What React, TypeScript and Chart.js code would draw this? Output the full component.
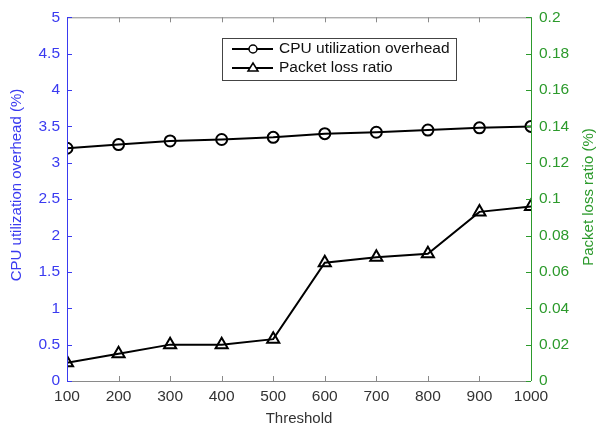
import React, { useEffect, useRef } from "react";
import { Chart, registerables } from "chart.js";
Chart.register(...registerables);

const thresholds = [100, 200, 300, 400, 500, 600, 700, 800, 900, 1000];
const cpuOverhead = [3.2, 3.25, 3.3, 3.32, 3.35, 3.4, 3.42, 3.45, 3.48, 3.5];
const packetLoss = [0.01, 0.015, 0.02, 0.02, 0.023, 0.065, 0.068, 0.07, 0.093, 0.096];
const leftTicks = [0, 0.5, 1, 1.5, 2, 2.5, 3, 3.5, 4, 4.5, 5];
const rightTicks = [0, 0.02, 0.04, 0.06, 0.08, 0.1, 0.12, 0.14, 0.16, 0.18, 0.2];
const seriesNames = ["CPU utilization overhead", "Packet loss ratio"];

const BLUE = "#3a3af0";
const GREEN = "#2c9a2c";
const GRAY = "#8a8a8a";
const FONT = "'Liberation Sans', Arial, sans-serif";

const fmt = (v: number) => String(+Number(v).toFixed(3));

const framePlugin = {
  id: "frame",
  afterDraw(chart: any) {
    const { ctx, chartArea: a, scales } = chart;
    const x = scales.x, yl = scales.y, yr = scales.y2;
    ctx.save();
    ctx.lineWidth = 1;
    ctx.strokeStyle = GRAY;
    ctx.beginPath();
    ctx.moveTo(a.left, a.top + 0.5); ctx.lineTo(a.right, a.top + 0.5);
    ctx.moveTo(a.left, a.bottom + 0.5); ctx.lineTo(a.right, a.bottom + 0.5);
    thresholds.forEach((t) => {
      const px = Math.round(x.getPixelForValue(t)) + 0.5;
      ctx.moveTo(px, a.bottom); ctx.lineTo(px, a.bottom - 5);
      ctx.moveTo(px, a.top); ctx.lineTo(px, a.top + 5);
    });
    ctx.stroke();
    ctx.strokeStyle = BLUE;
    ctx.beginPath();
    ctx.moveTo(a.left + 0.5, a.top); ctx.lineTo(a.left + 0.5, a.bottom);
    leftTicks.forEach((t) => {
      const py = Math.round(yl.getPixelForValue(t)) + 0.5;
      ctx.moveTo(a.left, py); ctx.lineTo(a.left + 5, py);
    });
    ctx.stroke();
    ctx.strokeStyle = GREEN;
    ctx.beginPath();
    ctx.moveTo(a.right + 0.5, a.top); ctx.lineTo(a.right + 0.5, a.bottom);
    rightTicks.forEach((t) => {
      const py = Math.round(yr.getPixelForValue(t)) + 0.5;
      ctx.moveTo(a.right, py); ctx.lineTo(a.right - 5, py);
    });
    ctx.stroke();
    ctx.font = `15px ${FONT}`;
    ctx.textAlign = "center";
    ctx.textBaseline = "middle";
    ctx.fillStyle = "#333";
    ctx.fillText("Threshold", (a.left + a.right) / 2, 419);
    ctx.save();
    ctx.translate(17, 185);
    ctx.rotate(-Math.PI / 2);
    ctx.fillStyle = BLUE;
    ctx.fillText("CPU utilization overhead (%)", 0, 0);
    ctx.restore();
    ctx.save();
    ctx.translate(589, 197);
    ctx.rotate(-Math.PI / 2);
    ctx.fillStyle = GREEN;
    ctx.fillText("Packet loss ratio (%)", 0, 0);
    ctx.restore();
    const lx = 222, ly = 38, lw = 234, lh = 42;
    ctx.fillStyle = "#fff";
    ctx.fillRect(lx, ly, lw, lh);
    ctx.strokeStyle = "#444";
    ctx.lineWidth = 1;
    ctx.strokeRect(lx + 0.5, ly + 0.5, lw, lh);
    const rows = [49, 68];
    rows.forEach((ry, i) => {
      ctx.strokeStyle = "#000";
      ctx.lineWidth = 2;
      ctx.beginPath();
      ctx.moveTo(232, ry); ctx.lineTo(273, ry);
      ctx.stroke();
      ctx.lineWidth = 1.5;
      ctx.beginPath();
      if (i === 0) {
        ctx.fillStyle = "#fff";
        ctx.arc(253, ry, 4, 0, Math.PI * 2);
        ctx.fill();
        ctx.stroke();
      } else {
        ctx.moveTo(253, ry - 5); ctx.lineTo(258, ry + 3); ctx.lineTo(248, ry + 3); ctx.closePath();
        ctx.fillStyle = "#fff";
        ctx.fill();
        ctx.stroke();
      }
      ctx.fillStyle = "#111";
      ctx.textAlign = "left";
      ctx.font = `15.5px ${FONT}`;
      ctx.fillText(seriesNames[i], 279, ry);
    });
    ctx.restore();
  },
};

export default function App() {
  const ref = useRef<HTMLCanvasElement | null>(null);
  useEffect(() => {
    document.body.style.margin = "0";
    const chart = new Chart(ref.current!, {
      type: "line",
      data: {
        datasets: [
          {
            label: seriesNames[0],
            data: thresholds.map((t, i) => ({ x: t, y: cpuOverhead[i] })),
            borderColor: "#000",
            borderWidth: 2,
            pointStyle: "circle",
            pointRadius: 5.5,
            pointBorderWidth: 2,
            pointBackgroundColor: "rgba(255,255,255,0)",
            pointBorderColor: "#000",
            yAxisID: "y",
          },
          {
            label: seriesNames[1],
            data: thresholds.map((t, i) => ({ x: t, y: packetLoss[i] })),
            borderColor: "#000",
            borderWidth: 2,
            pointStyle: "triangle",
            pointRadius: 7,
            pointBorderWidth: 2,
            pointBackgroundColor: "rgba(255,255,255,0)",
            pointBorderColor: "#000",
            yAxisID: "y2",
          },
        ],
      },
      options: {
        animation: false,
        responsive: false,
        layout: { padding: { top: 15, left: 0, right: 0, bottom: 0 } },
        plugins: { legend: { display: false }, tooltip: { enabled: false } },
        scales: {
          x: {
            type: "linear",
            min: 100,
            max: 1000,
            afterBuildTicks: (s: any) => { s.ticks = thresholds.map((v) => ({ value: v })); },
            afterFit: (s: any) => { s.height = 46; },
            grid: { display: false, drawTicks: false },
            border: { display: false },
            ticks: { color: "#333", font: { size: 15.5, family: FONT }, padding: 6, maxRotation: 0, callback: (v: any) => String(v) },
          },
          y: {
            type: "linear",
            position: "left",
            min: 0,
            max: 5,
            afterBuildTicks: (s: any) => { s.ticks = leftTicks.map((v) => ({ value: v })); },
            afterFit: (s: any) => { s.width = 67; },
            grid: { display: false, drawTicks: false },
            border: { display: false },
            ticks: { color: BLUE, font: { size: 15.5, family: FONT }, padding: 7, callback: (v: any) => fmt(v) },
          },
          y2: {
            type: "linear",
            position: "right",
            min: 0,
            max: 0.2,
            afterBuildTicks: (s: any) => { s.ticks = rightTicks.map((v) => ({ value: v })); },
            afterFit: (s: any) => { s.width = 66; },
            grid: { display: false, drawTicks: false },
            border: { display: false },
            ticks: { color: GREEN, font: { size: 15.5, family: FONT }, padding: 8, callback: (v: any) => fmt(v) },
          },
        },
      },
      plugins: [framePlugin],
    });
    return () => chart.destroy();
  }, []);
  return <canvas ref={ref} width={597} height={427} style={{ display: "block" }} />;
}
